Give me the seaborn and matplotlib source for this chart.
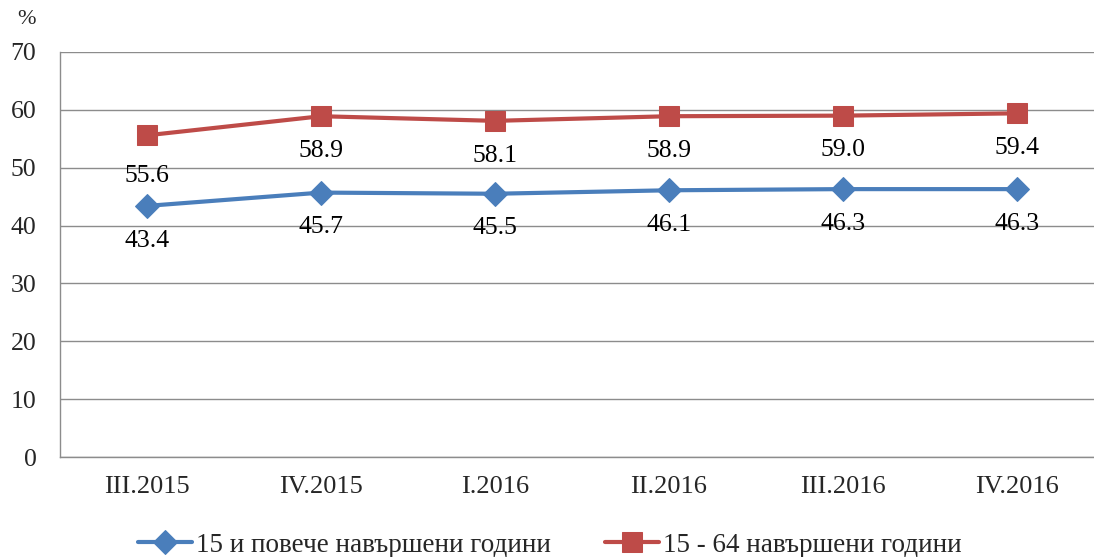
import matplotlib
matplotlib.use("Agg")
import matplotlib.pyplot as plt
import numpy as np
import pandas as pd
import seaborn as sns

# Data
quarters = ["III.2015", "IV.2015", "I.2016", "II.2016", "III.2016", "IV.2016"]
age_15_plus = [43.4, 45.7, 45.5, 46.1, 46.3, 46.3]
age_15_64 = [55.6, 58.9, 58.1, 58.9, 59.0, 59.4]
series_names = ["15 и повече навършени години", "15 - 64 навършени години"]

sns.set_style("white")
plt.rcParams["font.family"] = ["Liberation Serif", "DejaVu Serif"]

BLUE = "#4a7ebb"
RED = "#be4b48"
GRID = "#8c8c8c"

fig = plt.figure(figsize=(10.94, 5.57), dpi=100)
ax = fig.add_axes([60 / 1094, 100 / 557, 1044 / 1094, 405 / 557])

pos = np.arange(len(quarters))
df = pd.DataFrame({"pos": pos, "a": age_15_plus, "b": age_15_64})

sns.lineplot(data=df, x="pos", y="a", ax=ax, color=BLUE, linewidth=3,
             marker="D", markersize=12, markeredgecolor=BLUE, label=series_names[0])
sns.lineplot(data=df, x="pos", y="b", ax=ax, color=RED, linewidth=3,
             marker="s", markersize=14.5, markeredgecolor=RED, label=series_names[1])

# data labels below the points
for x, v in zip(pos, age_15_plus):
    ax.annotate(f"{v:.1f}", (x, v), xytext=(0, -25), textcoords="offset points",
                ha="center", va="center", fontsize=18.5, color="black")
for i, (x, v) in enumerate(zip(pos, age_15_64)):
    off = -29 if i == 0 else -25
    ax.annotate(f"{v:.1f}", (x, v), xytext=(0, off), textcoords="offset points",
                ha="center", va="center", fontsize=18.5, color="black")

ax.set_ylim(0, 70)
ax.set_xlim(-0.5, len(quarters) - 0.5)
ax.set_yticks(range(0, 71, 10))
ax.yaxis.grid(True, color=GRID, linewidth=1)
ax.set_axisbelow(True)

ax.set_xticks(pos)
ax.set_xticklabels(quarters)
ax.set_xticks(np.arange(-0.5, len(quarters), 1), minor=True)
ax.tick_params(axis="x", which="major", length=0, pad=14, labelsize=19)
ax.tick_params(axis="x", which="minor", length=7, color=GRID, width=1)
ax.tick_params(axis="y", length=7, color=GRID, width=1, labelsize=18.5, pad=10)
ax.set_xlabel("")
ax.set_ylabel("")

for side in ["top", "right"]:
    ax.spines[side].set_visible(False)
for side in ["left", "bottom"]:
    ax.spines[side].set_color(GRID)
    ax.spines[side].set_linewidth(1)

fig.text(17 / 1094, 1 - 20 / 557, "%", fontsize=16, ha="left", va="center")

ax.legend(loc="center", bbox_to_anchor=(490 / 1044, -88 / 405), ncol=2, frameon=False,
          fontsize=19.5, handlelength=2.0, columnspacing=2.0, handletextpad=0.15)

fig.savefig("out.png", dpi=100)
